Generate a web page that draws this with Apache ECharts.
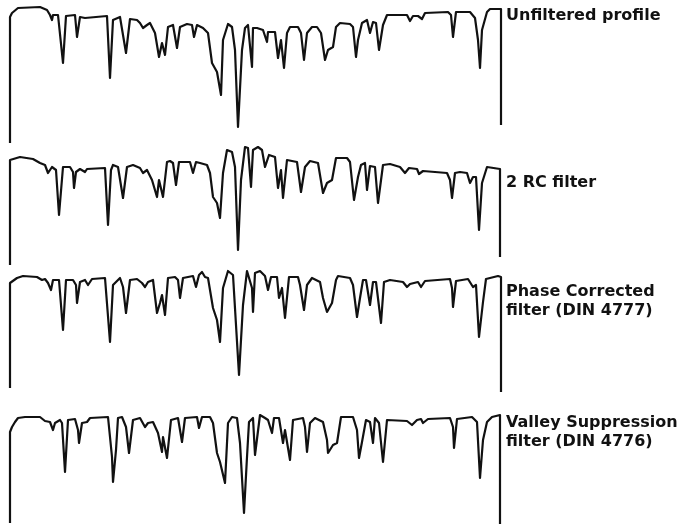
<!DOCTYPE html>
<html>
<head>
<meta charset="utf-8">
<script src="https://cdn.jsdelivr.net/npm/echarts@6/dist/echarts.min.js"></script>
<style>
  html, body { margin: 0; padding: 0; background: #fff; }
  #chart { width: 687px; height: 524px; }
</style>
</head>
<body>
<div id="chart"></div>
<script>
// profile traces: [position along trace, depth below top]
var unfiltered = [[0,143],[0,17],[2,13],[8,8],[30,7],[37,10],[40,15],[42,20],[43,15],[48,15],[53,63],[56,16],[65,15],[67,37],[70,17],[75,18],[77,16],[97,16],[100,78],[103,20],[110,17],[116,53],[120,19],[127,20],[130,23],[133,28],[137,25],[140,23],[145,33],[149,57],[152,43],[155,55],[158,27],[163,25],[167,48],[170,27],[177,24],[182,25],[184,37],[187,25],[193,28],[198,33],[202,63],[207,72],[211,95],[213,40],[218,24],[222,27],[225,50],[228,127],[232,50],[235,28],[238,25],[242,67],[243,28],[247,28],[253,30],[257,42],[258,32],[265,32],[268,58],[271,40],[274,68],[277,33],[280,27],[288,27],[291,33],[294,60],[297,33],[302,27],[307,27],[311,33],[315,60],[318,50],[323,47],[326,27],[330,23],[340,24],[343,27],[346,57],[348,40],[352,23],[357,20],[360,33],[363,22],[366,23],[369,50],[373,25],[377,15],[397,15],[400,21],[403,16],[408,16],[412,19],[415,13],[438,12],[441,15],[443,37],[446,12],[460,12],[465,18],[468,40],[470,68],[472,30],[477,12],[480,9],[491,9],[491,125]];

var rc2 = [[0,125],[0,20],[10,17],[23,19],[30,23],[35,25],[38,33],[42,27],[46,30],[49,75],[53,27],[60,27],[63,32],[64,48],[66,32],[70,29],[75,32],[77,29],[95,28],[98,85],[101,30],[103,25],[108,27],[113,58],[117,27],[123,25],[130,28],[133,33],[137,30],[142,40],[147,57],[149,40],[153,57],[157,22],[160,21],[163,23],[166,45],[169,22],[180,22],[183,33],[186,22],[190,23],[197,25],[200,33],[203,57],[207,63],[210,78],[213,33],[217,10],[222,12],[225,27],[228,110],[231,40],[235,7],[238,8],[241,47],[243,10],[248,7],[252,10],[255,27],[259,15],[265,17],[268,48],[271,30],[273,58],[277,20],[287,22],[291,52],[295,27],[300,21],[308,23],[313,53],[317,43],[322,40],[326,18],[337,18],[340,22],[344,60],[348,37],[351,25],[355,23],[357,50],[360,26],[365,27],[368,63],[373,25],[380,24],[390,27],[395,33],[399,28],[407,29],[409,34],[413,31],[437,33],[440,40],[442,58],[445,33],[450,32],[457,33],[460,43],[463,37],[466,37],[469,90],[472,43],[477,27],[490,29],[490,117]];

var phaseCorr = [[0,123],[0,18],[2,17],[7,13],[13,11],[27,12],[32,15],[35,14],[38,18],[41,25],[43,15],[49,15],[53,65],[56,15],[63,15],[66,20],[67,38],[70,17],[75,15],[78,20],[82,14],[95,13],[100,77],[103,20],[110,13],[113,22],[116,48],[120,15],[127,14],[132,18],[135,22],[138,17],[143,15],[147,48],[150,38],[152,30],[155,50],[158,13],[165,12],[168,15],[170,33],[173,13],[183,11],[186,22],[189,10],[192,7],[195,12],[198,13],[203,43],[207,55],[210,77],[213,23],[218,6],[223,10],[229,110],[233,40],[237,6],[242,23],[243,47],[245,8],[250,6],[255,11],[258,25],[261,12],[267,12],[269,33],[272,23],[275,53],[279,12],[288,12],[290,20],[294,45],[297,20],[302,13],[310,17],[313,33],[317,47],[322,38],[326,15],[328,11],[340,13],[343,20],[347,52],[350,33],[353,15],[356,15],[360,40],[363,17],[366,17],[371,58],[374,17],[380,15],[393,17],[397,22],[400,19],[408,17],[411,22],[415,16],[440,14],[442,23],[443,42],[446,16],[458,14],[463,22],[466,20],[469,72],[473,37],[476,14],[488,11],[491,12],[491,127]];

var valleySupp = [[0,123],[0,32],[2,27],[5,22],[8,18],[15,17],[30,17],[35,21],[40,22],[43,30],[45,23],[50,20],[52,23],[55,72],[58,20],[65,19],[68,30],[69,43],[72,23],[77,22],[80,18],[98,17],[102,57],[103,82],[106,50],[108,18],[112,17],[116,27],[119,53],[123,20],[130,18],[135,27],[138,23],[143,22],[148,33],[152,52],[153,37],[157,58],[161,20],[168,18],[172,42],[175,18],[187,17],[189,28],[192,17],[200,17],[203,23],[207,53],[210,62],[215,83],[218,23],[222,17],[227,18],[230,43],[234,113],[237,57],[239,22],[243,18],[245,55],[250,15],[255,18],[258,20],[262,33],[264,18],[269,18],[273,43],[275,30],[280,60],[283,20],[293,18],[295,27],[297,52],[300,23],[305,18],[313,22],[317,40],[318,53],[323,45],[327,43],[331,17],[343,17],[347,30],[349,58],[352,42],[356,20],[360,22],[363,43],[365,18],[369,23],[373,62],[377,20],[397,21],[402,25],[407,20],[411,19],[413,23],[418,19],[440,18],[443,27],[444,48],[447,19],[462,17],[467,22],[470,78],[473,40],[477,22],[482,17],[490,15],[490,124]];

var labels = [
  ['Unfiltered profile'],
  ['2 RC filter'],
  ['Phase Corrected', 'filter (DIN 4777)'],
  ['Valley Suppression', 'filter (DIN 4776)']
];

var profiles = [unfiltered, rc2, phaseCorr, valleySupp];
// panel placement: top, height (px)
var panels = [[0, 145], [140, 130], [265, 130], [400, 124]];
var labelY = [16, 183, 292, 423];

var chart = echarts.init(document.getElementById('chart'));

var grids = [], xAxes = [], yAxes = [], series = [], texts = [];
panels.forEach(function (p, i) {
  grids.push({ left: 10, width: 491, top: p[0], height: p[1] });
  xAxes.push({ type: 'value', gridIndex: i, min: 0, max: 491, show: false });
  yAxes.push({ type: 'value', gridIndex: i, min: 0, max: p[1], inverse: true, show: false });
  series.push({
    type: 'line',
    xAxisIndex: i,
    yAxisIndex: i,
    data: profiles[i],
    showSymbol: false,
    lineStyle: { color: '#111', width: 2.2, join: 'round' },
    silent: true
  });
  texts.push({
    type: 'text',
    left: 506,
    top: labelY[i] - 10,
    style: {
      text: labels[i].join('\n'),
      font: 'bold 16px "DejaVu Sans"',
      lineHeight: 19,
      fill: '#111'
    }
  });
});

var option = {
  animation: false,
  grid: grids,
  xAxis: xAxes,
  yAxis: yAxes,
  series: series,
  graphic: texts
};
chart.setOption(option);
</script>
</body>
</html>
